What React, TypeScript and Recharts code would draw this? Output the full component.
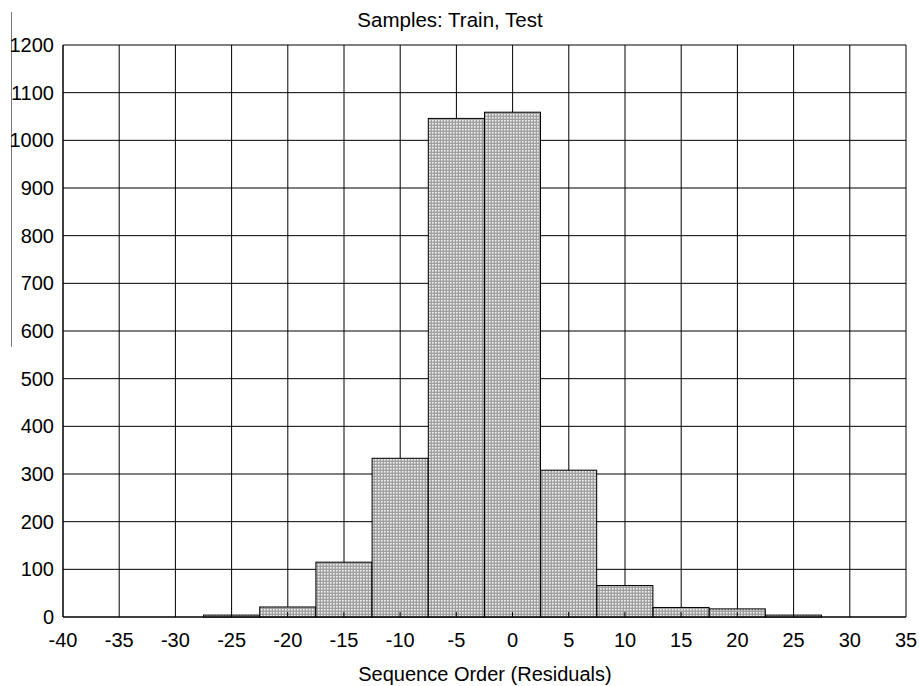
import React from "react";
import { ComposedChart, Bar, XAxis, YAxis, CartesianGrid } from "recharts";

const binCenters = [-25, -20, -15, -10, -5, 0, 5, 10, 15, 20, 25];
const counts = [4, 21, 115, 333, 1046, 1059, 308, 66, 20, 17, 4];
const xTicks = [-40, -35, -30, -25, -20, -15, -10, -5, 0, 5, 10, 15, 20, 25, 30, 35];
const yTicks = [0, 100, 200, 300, 400, 500, 600, 700, 800, 900, 1000, 1100, 1200];
const title = "Samples: Train, Test";
const xTitle = "Sequence Order (Residuals)";

const data = binCenters.map((b, i) => ({ bin: b, count: counts[i] }));

const FONT = "'Liberation Sans', Arial, sans-serif";

const HistBar = (props: any) => {
  const { x, y, width, height } = props;
  if (width == null || height == null) return null;
  const cx = x + width / 2;
  const bottom = y + height;
  return (
    <g>
      <rect x={x} y={y} width={width} height={height} fill="url(#checker)" stroke="#000" strokeWidth={1} />
      <line x1={cx} x2={cx} y1={bottom} y2={bottom - Math.min(5, height)} stroke="#000" strokeWidth={1} />
    </g>
  );
};

export default function App() {
  return (
    <div style={{ position: "absolute", left: 0, top: 0, width: 919, height: 686, background: "#fff", fontFamily: FONT }}>
      <div style={{ position: "absolute", left: 11, top: 12, width: 1, height: 335, background: "#777" }} />
      <div style={{ position: "absolute", left: 0, width: 900, top: 8, textAlign: "center", fontSize: 20.5, lineHeight: "normal", color: "#000" }}>{title}</div>
      <div style={{ position: "absolute", left: 0, width: 970, top: 663, textAlign: "center", fontSize: 20, lineHeight: "normal", color: "#000" }}>{xTitle}</div>
      <ComposedChart
        width={919}
        height={686}
        data={data}
        margin={{ top: 45, right: 13, left: 0, bottom: 0 }}
        barCategoryGap={0}
        barGap={0}
      >
        <defs>
          <pattern id="checker" width="3" height="3" patternUnits="userSpaceOnUse">
            <rect x="0" y="0" width="3" height="3" fill="#a0a0a0" />
            <rect x="0" y="0" width="1.6" height="1.6" fill="#f2f2f2" />
          </pattern>
        </defs>
        <CartesianGrid stroke="#000" strokeWidth={1} horizontal vertical />
        <XAxis
          dataKey="bin"
          type="number"
          domain={[-40, 35]}
          ticks={xTicks}
          interval={0}
          height={69}
          tickSize={0}
          tickMargin={16}
          axisLine={{ stroke: "#000" }}
          tick={{ fill: "#000", fontSize: 20, fontFamily: FONT }}
        />
        <YAxis
          type="number"
          domain={[0, 1200]}
          ticks={yTicks}
          interval={0}
          width={63}
          tickSize={0}
          tickMargin={9}
          axisLine={{ stroke: "#000" }}
          tick={{ fill: "#000", fontSize: 20, fontFamily: FONT }}
        />
        <Bar dataKey="count" shape={HistBar} isAnimationActive={false} />
      </ComposedChart>
    </div>
  );
}
